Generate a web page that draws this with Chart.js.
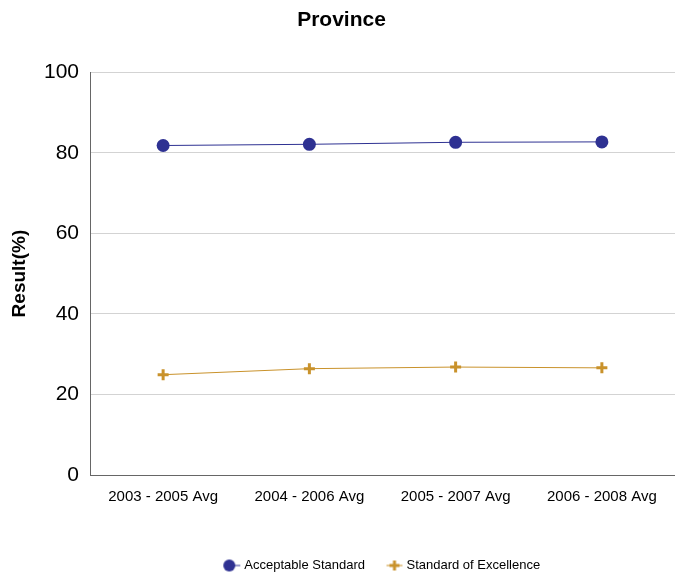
<!DOCTYPE html>
<html>
<head>
<meta charset="utf-8">
<script src="https://cdn.jsdelivr.net/npm/chart.js@4"></script>
<style>
  html, body { margin: 0; padding: 0; background: #fff; }
  #wrap { width: 675px; height: 575px; }
</style>
</head>
<body>
<div id="wrap"><canvas id="chart" width="675" height="575"></canvas></div>
<script>
var periods = ['2003 - 2005 Avg', '2004 - 2006 Avg', '2005 - 2007 Avg', '2006 - 2008 Avg'];
var acceptable = [81.8, 82.1, 82.6, 82.7];
var excellence = [24.9, 26.4, 26.8, 26.6];
var yTicks = [0, 20, 40, 60, 80, 100];

var blue = '#2E3192';
var gold = '#C9922B';
var fam = 'Liberation Sans, Arial, sans-serif';

// small legend icons: line with marker through it
function legendIcon(color, kind) {
    var c = document.createElement('canvas');
    c.width = 22; c.height = 14;
    var g = c.getContext('2d');
    g.strokeStyle = color;
    g.lineWidth = 1;
    g.beginPath(); g.moveTo(4, 7); g.lineTo(20, 7); g.stroke();
    g.fillStyle = color;
    if (kind === 'circle') {
        g.beginPath(); g.arc(9, 7, 6, 0, Math.PI * 2); g.fill();
    } else {
        g.lineWidth = 3;
        g.beginPath();
        g.moveTo(12, 2); g.lineTo(12, 12);
        g.moveTo(7, 7); g.lineTo(17, 7);
        g.stroke();
    }
    return c;
}

var ctx = document.getElementById('chart').getContext('2d');
var chart = new Chart(ctx, {
    type: 'line',
    data: {
        labels: periods,
        datasets: [{
            label: 'Acceptable Standard',
            data: acceptable,
            borderColor: blue,
            backgroundColor: blue,
            borderWidth: 1,
            pointStyle: 'circle',
            pointRadius: 6.5,
            pointHoverRadius: 6.5,
            pointBorderWidth: 0,
            tension: 0
        }, {
            label: 'Standard of Excellence',
            data: excellence,
            borderColor: gold,
            backgroundColor: gold,
            borderWidth: 1,
            pointStyle: 'cross',
            pointRadius: 5.5,
            pointHoverRadius: 5.5,
            pointBorderWidth: 3,
            tension: 0
        }]
    },
    options: {
        responsive: false,
        animation: false,
        layout: { autoPadding: false, padding: { left: 8, right: 0, top: 0, bottom: -7 } },
        plugins: {
            title: {
                display: true,
                text: 'Province',
                color: '#000',
                font: { family: fam, size: 21, weight: 'bold' },
                padding: { top: 8, bottom: 39 }
            },
            legend: {
                position: 'bottom',
                fullSize: false,
                labels: {
                    color: '#000',
                    font: { family: fam, size: 13 },
                    usePointStyle: true,
                    padding: 22,
                    generateLabels: function (ch) {
                        return ch.data.datasets.map(function (ds, i) {
                            return {
                                text: ds.label,
                                datasetIndex: i,
                                pointStyle: legendIcon(ds.borderColor, ds.pointStyle),
                                fontColor: '#000',
                                lineWidth: 0,
                                strokeStyle: ds.borderColor,
                                fillStyle: ds.borderColor
                            };
                        });
                    }
                }
            },
            tooltip: { enabled: false }
        },
        scales: {
            x: {
                offset: true,
                grid: { display: false, drawTicks: false },
                border: { color: '#666', width: 1 },
                ticks: {
                    color: '#000',
                    padding: 13,
                    maxRotation: 0,
                    font: { family: fam, size: 15 }
                },
                afterFit: function (s) { s.height = 62; }
            },
            y: {
                min: 0,
                max: 100,
                afterBuildTicks: function (s) {
                    s.ticks = yTicks.map(function (v) { return { value: v }; });
                },
                grid: { color: '#d3d3d3', drawTicks: false },
                border: { color: '#666', width: 1 },
                ticks: {
                    color: '#000',
                    padding: 11,
                    font: { family: fam, size: 21 }
                },
                title: {
                    display: true,
                    text: 'Result(%)',
                    color: '#000',
                    font: { family: fam, size: 19, weight: 'bold' },
                    padding: { top: 0, bottom: 8 }
                },
                afterFit: function (s) { s.width = 82; }
            }
        }
    }
});
</script>
</body>
</html>
